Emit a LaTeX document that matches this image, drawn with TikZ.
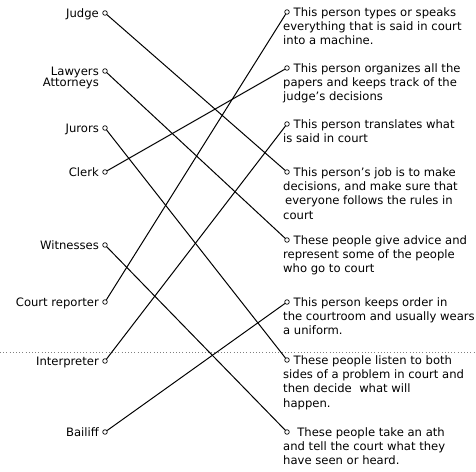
\documentclass[tikz,border=0pt]{standalone}
\usepackage{fontspec}
\setmainfont{DejaVu Sans}
\begin{document}
\begin{tikzpicture}[x=1pt,y=-1pt,
  dot/.style={circle,draw,line width=0.7pt,minimum size=4.6pt,inner sep=0pt},
  lab/.style={anchor=base east,inner sep=0pt,align=right,font=\fontsize{11.6}{11}\selectfont},
  desc/.style={anchor=north west,inner sep=0pt,align=left,font=\fontsize{11.6}{14.3}\selectfont},
  link/.style={line width=1pt,black}]
\useasboundingbox (0,0) rectangle (476,471);
\fill[white] (0,0) rectangle (476,471);
\draw[gray,line width=0.6pt,dash pattern=on 0.6pt off 2.6pt] (0,352) -- (476,352);
% left labels
\node[lab] (tJudge) at (99,17) {Judge};
\node[lab,anchor=north east] (tLaw) at (99,66.5) {Lawyers\\Attorneys};
\node[lab] (tJur) at (99,132) {Jurors};
\node[lab] (tClerk) at (99,176) {Clerk};
\node[lab] (tWit) at (99,249) {Witnesses};
\node[lab] (tCR) at (99,306) {Court reporter};
\node[lab] (tInt) at (99,365) {Interpreter};
\node[lab] (tBai) at (99,436) {Bailiff};
% left dots
\node[dot] (lJudge) at (105,13) {};
\node[dot] (lLaw) at (105,71) {};
\node[dot] (lJur) at (105,128) {};
\node[dot] (lClerk) at (105,172) {};
\node[dot] (lWit) at (105,245) {};
\node[dot] (lCR) at (105,302) {};
\node[dot] (lInt) at (105,361) {};
\node[dot] (lBai) at (105,432) {};
% right dots
\node[dot] (r1) at (287,12) {};
\node[dot] (r2) at (287,68) {};
\node[dot] (r3) at (287,124) {};
\node[dot] (r4) at (287,172) {};
\node[dot] (r5) at (287,240) {};
\node[dot] (r6) at (287,302) {};
\node[dot] (r7) at (287,360) {};
\node[dot] (r8) at (287,432) {};
% right texts
\node[desc] (d1) at (283,7.2) {\hspace*{10.5pt}This person types or speaks\\everything that is said in court\\into a machine.};
\node[desc] (d2) at (283,63.2) {\hspace*{10.5pt}This person organizes all the\\papers and keeps track of the\\judge's decisions};
\node[desc] (d3) at (283,119.2) {\hspace*{10.5pt}This person translates what\\is said in court};
\node[desc] (d4) at (283,167.2) {\hspace*{10.5pt}This person's job is to make\\decisions, and make sure that\\\hspace*{2pt}everyone follows the rules in\\court};
\node[desc] (d5) at (283,235.2) {\hspace*{10.5pt}These people give advice and\\represent some of the people\\who go to court};
\node[desc] (d6) at (283,297.2) {\hspace*{10.5pt}This person keeps order in\\the courtroom and usually wears\\a uniform.};
\node[desc] (d7) at (283,355.2) {\hspace*{10.5pt}These people listen to both\\sides of a problem in court and\\then decide\ \ what will\\happen.};
\node[desc] (d8) at (283,427.2) {\hspace*{10.5pt}\ These people take an ath\\and tell the court what they\\have seen or heard.};
% connectors
\draw[link] (lJudge) -- (r4);
\draw[link] (lLaw) -- (r5);
\draw[link] (lJur) -- (r7);
\draw[link] (lClerk) -- (r2);
\draw[link] (lWit) -- (r8);
\draw[link] (lCR) -- (r1);
\draw[link] (lInt) -- (r3);
\draw[link] (lBai) -- (r6);
\end{tikzpicture}
\end{document}
